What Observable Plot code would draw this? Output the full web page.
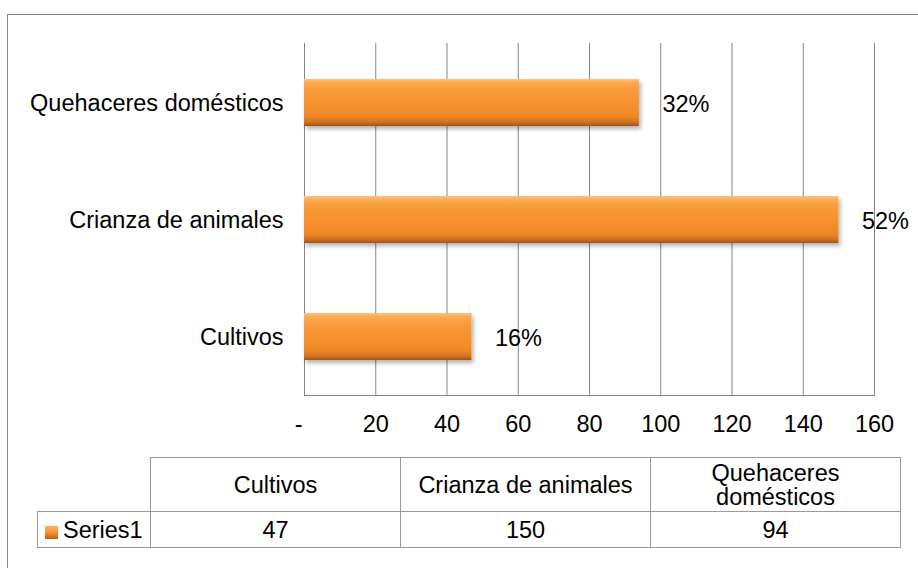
<!DOCTYPE html>
<html><head><meta charset="utf-8">
<script src="https://cdn.jsdelivr.net/npm/d3@7"></script>
<script src="https://cdn.jsdelivr.net/npm/@observablehq/plot@0.6"></script>
<style>
html,body{margin:0;padding:0;background:#fff;overflow:hidden;}
#wrap{position:relative;width:918px;height:568px;overflow:hidden;font-family:"Liberation Sans",Arial,sans-serif;color:#000;}
#frame{position:absolute;left:7px;top:14px;width:1000px;height:1000px;border:1px solid #878787;box-sizing:border-box;}
#chart{position:absolute;left:0;top:0;}
#tbl{position:absolute;left:37px;top:457px;border-collapse:collapse;font-size:23.5px;table-layout:fixed;}
#tbl td{border:1px solid #9a9a9a;text-align:center;padding:0;line-height:24px;}
#tbl td.blank{border-top:none;border-left:none;}
#tbl td.name{text-align:left;padding-left:7px;white-space:nowrap;}
.key{display:inline-block;width:13px;height:13px;margin-right:5px;vertical-align:-1px;
  background:linear-gradient(#FBB15A,#F7922F 50%,#B8601A);}
</style></head>
<body>
<div id="wrap">
  <div id="frame"></div>
  <div id="chart"></div>
  <table id="tbl"></table>
</div>
<script>
const categories = ["Cultivos", "Crianza de animales", "Quehaceres domésticos"];
const values = [47, 150, 94];
const percentLabels = ["16%", "52%", "32%"];
const xTicks = [0, 20, 40, 60, 80, 100, 120, 140, 160];
const seriesName = "Series1";
const tableHeaders = ["Cultivos", "Crianza de animales", "Quehaceres<br>domésticos"];

const data = categories.map((c, i) => ({category: c, value: values[i], label: percentLabels[i]}));

const chart = Plot.plot({
  width: 918, height: 440,
  marginLeft: 304, marginRight: 44, marginTop: 43, marginBottom: 45,
  style: {fontFamily: "'Liberation Sans', Arial, sans-serif", fontSize: "23.5px", color: "#000", background: "transparent", overflow: "visible"},
  x: {domain: [0, 160], label: null},
  y: {domain: [...categories].reverse(), paddingInner: 0.6, paddingOuter: 0.3, label: null},
  marks: [
    Plot.gridX(xTicks, {stroke: "#868686", strokeOpacity: 1, strokeWidth: 1}),
    Plot.frame({anchor: "bottom", stroke: "#868686", strokeWidth: 1}),
    Plot.barX(data, {y: "category", x: "value", fill: "url(#barGrad)"}),
    Plot.text(data, {y: "category", x: "value", text: "label", textAnchor: "start", dx: 23, dy: 1, fill: "#000"}),
    Plot.axisX({ticks: xTicks, tickSize: 0, tickPadding: 20, tickFormat: d => d === 0 ? "-\u2002" : String(d), fill: "#000"}),
    Plot.axisY({tickSize: 0, tickPadding: 21, fill: "#000"})
  ]
});

const svgNS = "http://www.w3.org/2000/svg";
const defs = document.createElementNS(svgNS, "defs");
defs.innerHTML = `
  <linearGradient id="barGrad" x1="0" y1="0" x2="0" y2="1">
    <stop offset="0" stop-color="#FCC383"/>
    <stop offset="0.07" stop-color="#FBAE55"/>
    <stop offset="0.2" stop-color="#F99C3C"/>
    <stop offset="0.5" stop-color="#F7922F"/>
    <stop offset="0.8" stop-color="#EE8826"/>
    <stop offset="0.92" stop-color="#D07220"/>
    <stop offset="1" stop-color="#9E5516"/>
  </linearGradient>
  <filter id="barShadow" x="-10%" y="-20%" width="130%" height="160%">
    <feDropShadow dx="2" dy="3" stdDeviation="2" flood-color="#000" flood-opacity="0.3"/>
  </filter>`;
chart.insertBefore(defs, chart.firstChild);
d3.select(chart).selectAll("g[aria-label=bar] rect").attr("filter", "url(#barShadow)");
document.getElementById("chart").appendChild(chart);

// data table
const tbl = document.getElementById("tbl");
const colWidths = [113, 250, 250, 250];
const cg = document.createElement("colgroup");
colWidths.forEach(w => { const c = document.createElement("col"); c.style.width = w + "px"; cg.appendChild(c); });
tbl.appendChild(cg);
const hr = document.createElement("tr");
hr.style.height = "54px";
const blank = document.createElement("td"); blank.className = "blank"; hr.appendChild(blank);
tableHeaders.forEach(h => { const td = document.createElement("td"); td.innerHTML = h; hr.appendChild(td); });
tbl.appendChild(hr);
const vr = document.createElement("tr");
vr.style.height = "36px";
const nm = document.createElement("td"); nm.className = "name";
nm.innerHTML = `<span class="key"></span>${seriesName}`;
vr.appendChild(nm);
values.forEach(v => { const td = document.createElement("td"); td.textContent = String(v); vr.appendChild(td); });
tbl.appendChild(vr);
</script>
</body></html>
